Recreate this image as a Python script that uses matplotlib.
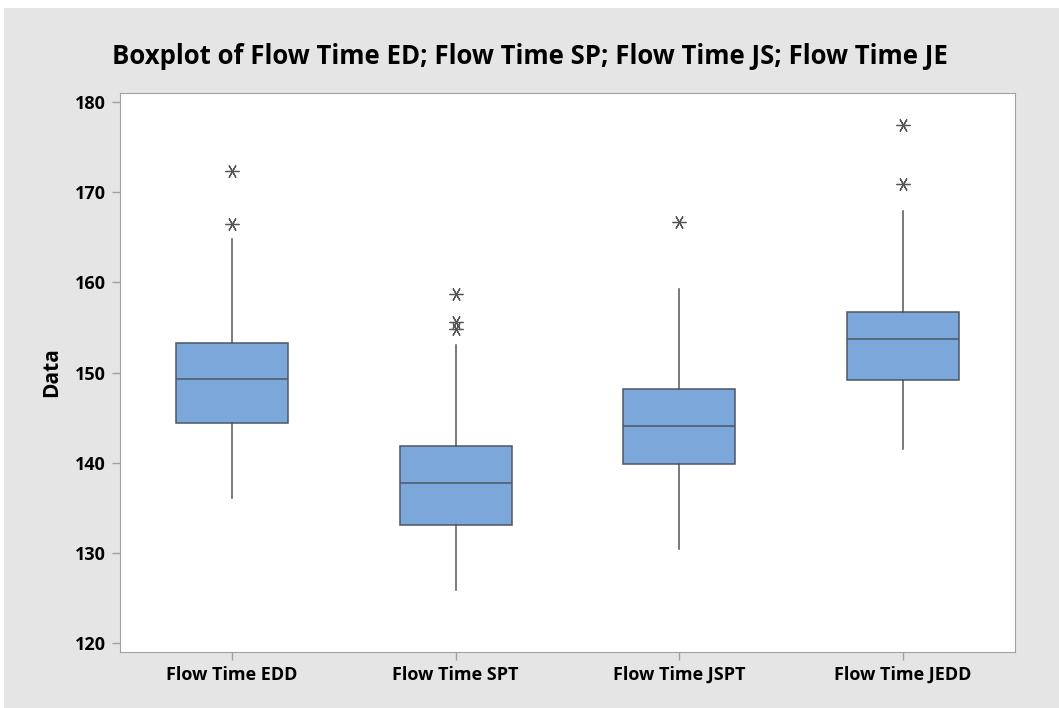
import matplotlib
matplotlib.use('Agg')
import matplotlib.pyplot as plt
from matplotlib.patches import Rectangle

plt.rcParams['font.family'] = ['Open Sans', 'DejaVu Sans']

labels = ['Flow Time EDD', 'Flow Time SPT', 'Flow Time JSPT', 'Flow Time JEDD']
whislo = [136.1, 125.9, 130.4, 141.5]
q1 = [144.4, 133.1, 139.8, 149.2]
med = [149.3, 137.7, 144.1, 153.7]
q3 = [153.3, 141.8, 148.2, 156.7]
whishi = [164.8, 153.0, 159.3, 167.9]
fliers = [[166.5, 172.3], [154.8, 155.6, 158.7], [166.7], [170.9, 177.4]]

stats = []
for i in range(len(labels)):
    stats.append({'label': labels[i], 'whislo': whislo[i], 'q1': q1[i], 'med': med[i],
                  'q3': q3[i], 'whishi': whishi[i], 'fliers': fliers[i]})

fig = plt.figure(figsize=(10.59, 7.08), dpi=100, facecolor='white')
fig.patches.append(Rectangle((4/1059, 0), 1, 700/708, transform=fig.transFigure,
                             facecolor='#e5e5e5', edgecolor='none', zorder=-10))
ax = fig.add_axes([120/1059, 1 - 652/708, 895/1059, 559/708])

ax.bxp(stats, positions=[1, 2, 3, 4], widths=0.5, patch_artist=True, showcaps=False,
       boxprops=dict(facecolor='#7ba7da', edgecolor='#4d5666', linewidth=1.1),
       medianprops=dict(color='#4d5666', linewidth=1.1),
       whiskerprops=dict(color='#555555', linewidth=1.1),
       flierprops=dict(marker=(6, 2, 90), markersize=10, markeredgecolor='#555555',
                       markeredgewidth=0.9, linestyle='none'))

ax.set_xlim(0.5, 4.5)
ax.set_ylim(119, 181)
ax.set_yticks([120, 130, 140, 150, 160, 170, 180])
ax.set_xticks([1, 2, 3, 4])
ax.set_xticklabels(labels)
for s in ax.spines.values():
    s.set_color('#a0a0a0')
ax.tick_params(colors='#a0a0a0', labelcolor='black', length=6, width=1, pad=4)
for t in ax.get_xticklabels() + ax.get_yticklabels():
    t.set_fontweight('bold')
    t.set_fontsize(13)
ax.set_ylabel('Data', fontsize=15, fontweight='bold', labelpad=9)
fig.text(0.5, 1 - 57/708, 'Boxplot of Flow Time ED; Flow Time SP; Flow Time JS; Flow Time JE',
         ha='center', va='center', fontsize=18.5, fontweight='bold')

fig.savefig('out.png', dpi=100)
